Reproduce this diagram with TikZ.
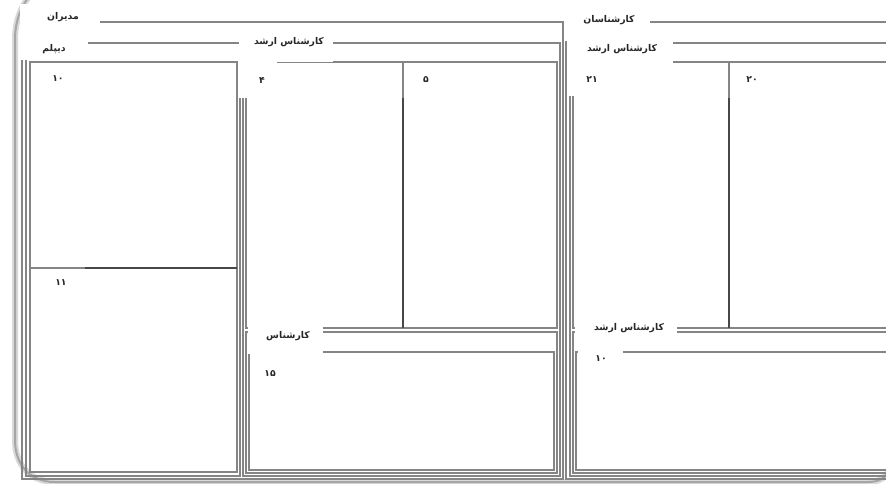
\documentclass[tikz,border=0pt]{standalone}
\usepackage{fontspec}
\newfontfamily\fa[Script=Arabic]{DejaVu Sans}
\TeXXeTstate=1
\newcommand\fatxt[1]{{\fa\beginR #1\endR}}
\begin{document}
\begin{tikzpicture}[x=1pt,y=-1pt,
  box/.style={draw=black!48, line width=1.6pt},
  divider/.style={draw=black!72, line width=1.7pt},
  framehalo/.style={draw=black!15, line width=6pt},
  frame/.style={draw=black!35, line width=2pt},
  cover/.style={fill=white},
  txt/.style={inner sep=0pt, text=black!85, font=\fa\bfseries\fontsize{9.3}{11}\selectfont}]
\useasboundingbox (0,0) rectangle (886,484);
\clip (0,0) rectangle (886,484);
\fill[white] (0,0) rectangle (886,484);
% outer frame
\draw[framehalo] (890,-10) -- (890,460) .. controls (890,474) and (884,482) .. (868,482)
  -- (55,482) .. controls (30,482) and (15,465) .. (15,440) -- (15,40)
  .. controls (15,15) and (25,0) .. (35,-10);
\draw[frame] (890,-10) -- (890,460) .. controls (890,474) and (884,482) .. (868,482)
  -- (55,482) .. controls (30,482) and (15,465) .. (15,440) -- (15,40)
  .. controls (15,15) and (25,0) .. (35,-10);
% nested boxes
\draw[box] (22,22) rectangle (563,479);   % M
\draw[box] (26,43) rectangle (240,476);   % D
\draw[box] (243,43) rectangle (560,476);  % A1
\draw[box] (30,62) rectangle (237,268);   % 10
\draw[box] (30,268) rectangle (237,472);  % 11
\draw[box] (246,62) rectangle (403,328);  % 4
\draw[box] (403,62) rectangle (557,328);  % 5
\draw[box] (246,332) rectangle (557,473); % KK
\draw[box] (249,352) rectangle (554,470); % 15
\draw[box] (566,22) rectangle (895,479);  % K
\draw[box] (570,43) rectangle (895,476);  % A2
\draw[box] (573,62) rectangle (729,328);  % 21
\draw[box] (729,62) rectangle (895,328);  % 20
\draw[box] (573,332) rectangle (895,473); % A3
\draw[box] (576,352) rectangle (895,470); % 10r
% dark dividers
\draw[divider] (85,268) -- (237,268);
\draw[divider] (403,98) -- (403,328);
\draw[divider] (729,98) -- (729,328);
% label covers
\fill[cover] (20,4) rectangle (100,34);
\fill[cover] (20,34) rectangle (88,60);
\fill[cover] (32,63.5) rectangle (78,100);
\fill[cover] (239,30) rectangle (333,62);
\fill[cover] (239,62) rectangle (277,98);
\fill[cover] (405,63.5) rectangle (443,98);
\fill[cover] (565,6) rectangle (650,41);
\fill[cover] (568,41) rectangle (673,96);
\fill[cover] (731,63.5) rectangle (773,98);
\fill[cover] (32,270) rectangle (85,300);
\fill[cover] (248,318) rectangle (323,353.5);
\fill[cover] (251,353.5) rectangle (300,392);
\fill[cover] (575,316) rectangle (677,350);
\fill[cover] (578,350) rectangle (623,380);
% labels
\node[txt] (tM)  at (63,17)  {\fatxt{مدیران}};
\node[txt] (tK)  at (609,20) {\fatxt{کارشناسان}};
\node[txt] (tD)  at (54,49)  {\fatxt{دیپلم}};
\node[txt] (tA1) at (289,42) {\fatxt{کارشناس ارشد}};
\node[txt] (tA2) at (622,49) {\fatxt{کارشناس ارشد}};
\node[txt] (t10) at (58,79)  {\fatxt{۱۰}};
\node[txt] (t4)  at (262,80) {\fatxt{۴}};
\node[txt] (t5)  at (426,80) {\fatxt{۵}};
\node[txt] (t21) at (592,80) {\fatxt{۲۱}};
\node[txt] (t20) at (752,80) {\fatxt{۲۰}};
\node[txt] (t11) at (61,283) {\fatxt{۱۱}};
\node[txt] (tKK) at (288,336) {\fatxt{کارشناس}};
\node[txt] (t15) at (270,374) {\fatxt{۱۵}};
\node[txt] (tA3) at (629,328) {\fatxt{کارشناس ارشد}};
\node[txt] (t10r) at (601,359) {\fatxt{۱۰}};
\end{tikzpicture}
\end{document}
